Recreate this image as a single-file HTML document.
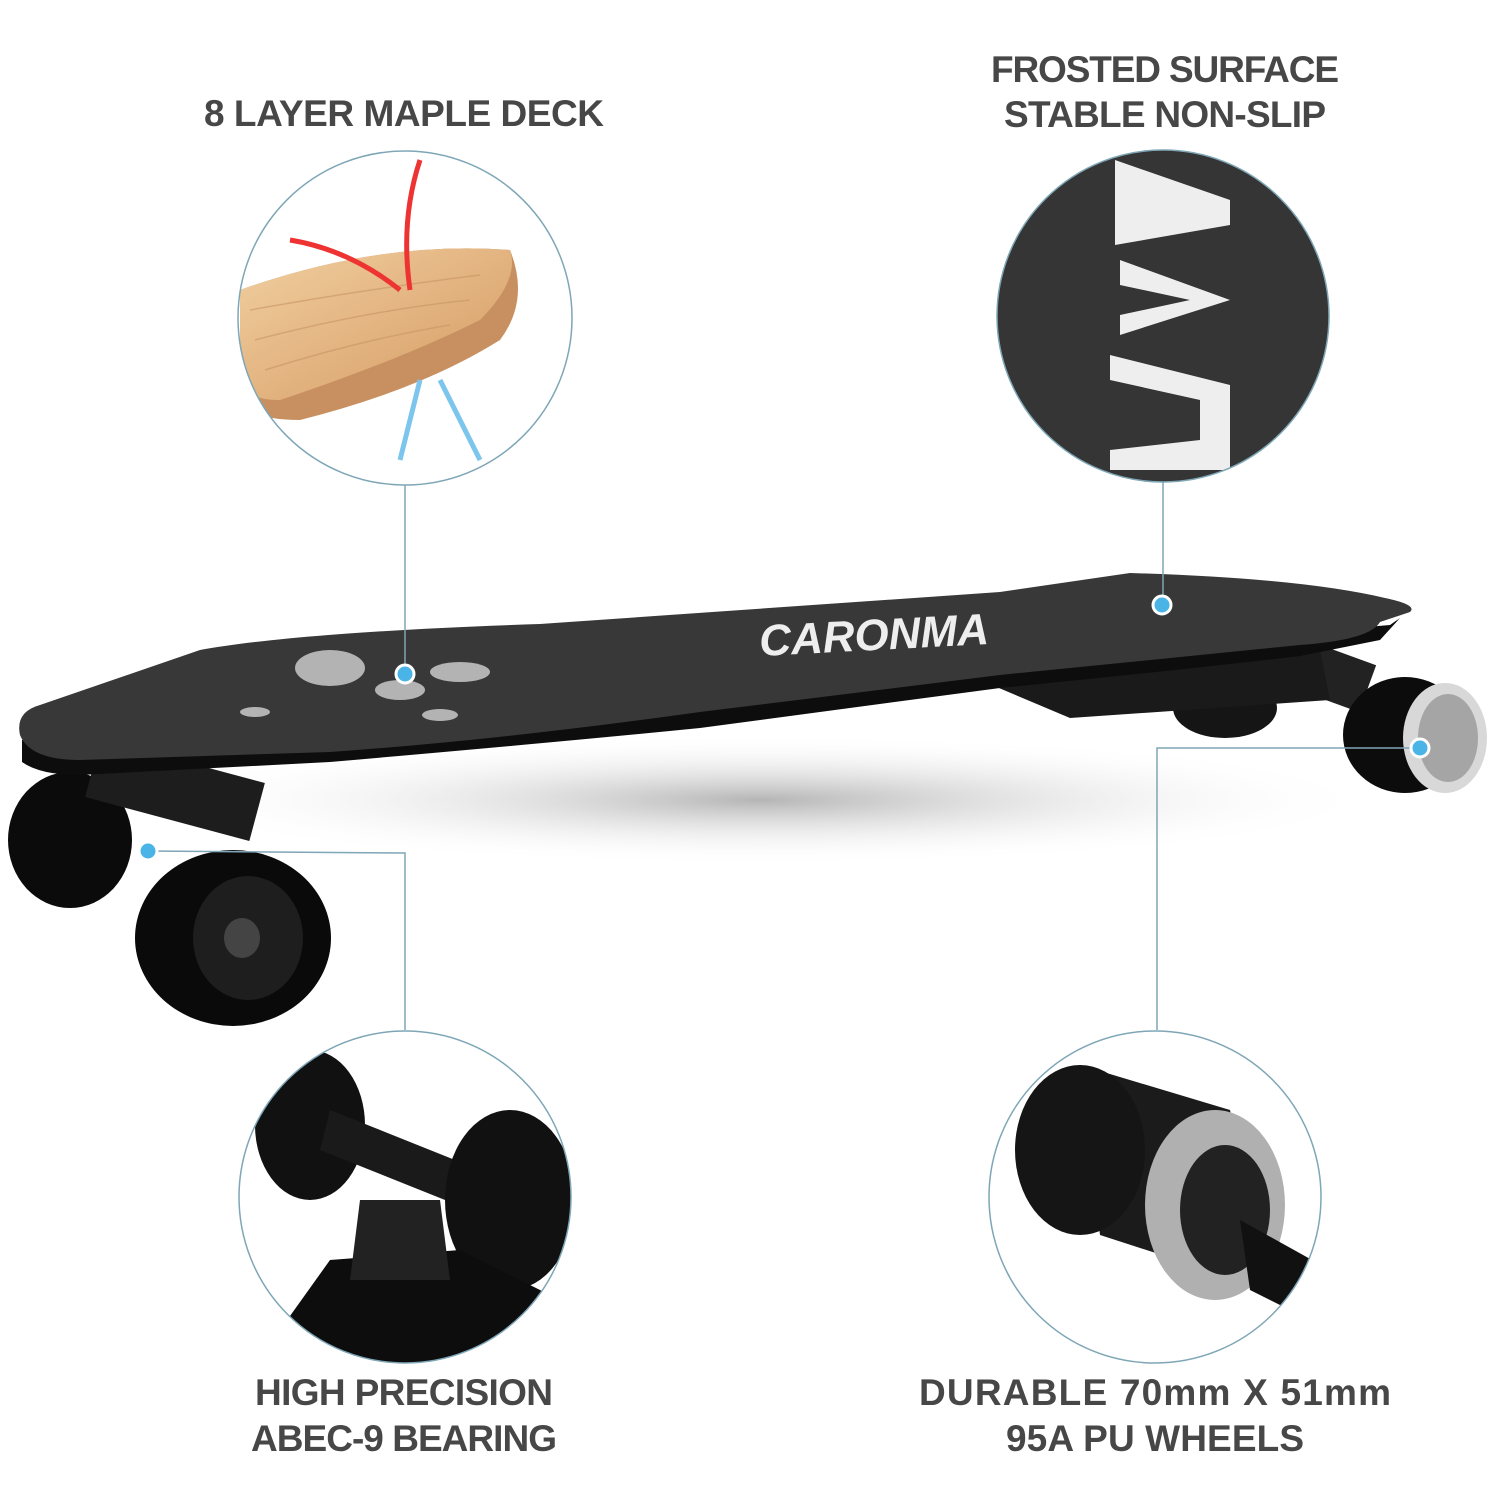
<!DOCTYPE html>
<html><head><meta charset="utf-8"><style>
html,body{margin:0;padding:0;background:#fff;}
svg{display:block;}
text{font-family:"Liberation Sans",sans-serif;font-weight:bold;fill:#474747;}
</style></head><body>
<svg width="1500" height="1500" viewBox="0 0 1500 1500" xmlns="http://www.w3.org/2000/svg">
<defs>
<radialGradient id="sh" cx="0.5" cy="0.5" r="0.5">
<stop offset="0" stop-color="#b5b5b5"/><stop offset="1" stop-color="#fff" stop-opacity="0"/>
</radialGradient>
<linearGradient id="wood" x1="0" y1="0" x2="1" y2="1">
<stop offset="0" stop-color="#f1cfa0"/><stop offset="1" stop-color="#d59a62"/>
</linearGradient>
<clipPath id="c1"><circle cx="405" cy="318" r="167"/></clipPath>
<clipPath id="c2"><circle cx="1163" cy="316" r="166"/></clipPath>
<clipPath id="c3"><circle cx="405" cy="1197" r="166"/></clipPath>
<clipPath id="c4"><circle cx="1155" cy="1197" r="166"/></clipPath>
</defs>

<text x="404" y="126" font-size="37" text-anchor="middle" textLength="400">8 LAYER MAPLE DECK</text>
<text x="1165" y="82" font-size="37" text-anchor="middle" textLength="348">FROSTED SURFACE</text>
<text x="1165" y="127" font-size="37" text-anchor="middle" textLength="322">STABLE NON-SLIP</text>
<text x="404" y="1405" font-size="37" text-anchor="middle" textLength="298">HIGH PRECISION</text>
<text x="404" y="1451" font-size="37" text-anchor="middle" textLength="306">ABEC-9 BEARING</text>
<text x="1155" y="1405" font-size="37" text-anchor="middle" textLength="472">DURABLE 70mm X 51mm</text>
<text x="1155" y="1451" font-size="37" text-anchor="middle" textLength="298">95A PU WHEELS</text>

<ellipse cx="760" cy="800" rx="620" ry="65" fill="url(#sh)"/>

<ellipse cx="1225" cy="708" rx="52" ry="30" fill="#151515"/>
<rect x="1290" y="650" width="80" height="50" fill="#222" transform="rotate(20 1330 675)"/>
<ellipse cx="1405" cy="735" rx="62" ry="58" fill="#0c0c0c"/>
<ellipse cx="1445" cy="738" rx="42" ry="55" fill="#d8d8d8"/>
<ellipse cx="1448" cy="738" rx="30" ry="44" fill="#a5a5a5"/>
<polygon points="980,680 1320,650 1330,700 1070,718" fill="#1a1a1a"/>

<ellipse cx="70" cy="840" rx="62" ry="68" fill="#0b0b0b"/>
<rect x="90" y="760" width="170" height="60" fill="#1d1d1d" transform="rotate(15 175 790)"/>
<ellipse cx="233" cy="938" rx="98" ry="88" fill="#0a0a0a"/>
<ellipse cx="248" cy="938" rx="55" ry="62" fill="#1e1e1e"/>
<ellipse cx="242" cy="938" rx="18" ry="20" fill="#444"/>

<path d="M22,740 L22,762 Q40,775 80,775 L330,762 Q560,742 700,728 L1000,688 Q1200,668 1300,656 L1380,640 L1400,618 L1390,625 Z" fill="#0d0d0d"/>
<path d="M20,735 Q15,712 40,705 L200,650 Q300,632 540,624 L1000,592 L1130,573 Q1300,578 1385,598 Q1418,605 1410,612 L1380,622 Q1370,640 1300,645 L1000,675 L700,712 Q500,740 330,752 L80,760 Q30,760 20,735 Z" fill="#383838"/>
<text x="760" y="656" font-size="44" style="fill:#eee;font-style:italic" transform="rotate(-3 760 656)">CARONMA</text>
<g fill="#ddd" opacity="0.75">
<ellipse cx="330" cy="668" rx="35" ry="18"/>
<ellipse cx="400" cy="690" rx="25" ry="10"/>
<ellipse cx="460" cy="672" rx="30" ry="10"/>
<ellipse cx="440" cy="715" rx="18" ry="6"/>
<ellipse cx="255" cy="712" rx="15" ry="5"/>
</g>

<g stroke="#7ea6b6" stroke-width="1.5" fill="none">
<line x1="405" y1="485" x2="405" y2="673"/>
<line x1="1163" y1="482" x2="1163" y2="604"/>
<polyline points="148,851 405,853 405,1030"/>
<polyline points="1420,748 1157,748 1157,1030"/>
</g>
<g fill="#4ab4e6" stroke="#fff" stroke-width="3">
<circle cx="405" cy="674" r="9"/>
<circle cx="1162" cy="605" r="9"/>
<circle cx="148" cy="851" r="9"/>
<circle cx="1420" cy="748" r="9"/>
</g>

<g clip-path="url(#c1)">
<rect x="230" y="150" width="350" height="340" fill="#fff"/>
<path d="M240,290 Q380,240 510,250 Q530,300 500,340 Q420,390 300,420 Q250,420 240,400 Z" fill="#c89060"/>
<path d="M240,290 Q380,240 510,250 Q520,280 480,320 Q400,360 280,400 Q245,400 240,380 Z" fill="url(#wood)"/>
<g stroke="#c99566" stroke-width="1.5" fill="none" opacity="0.6">
<path d="M250,310 Q360,290 480,275"/><path d="M255,340 Q370,310 470,300"/><path d="M265,370 Q360,340 450,325"/>
</g>
<path d="M290,240 Q350,250 400,290 M420,160 Q400,220 410,290" stroke="#e33" stroke-width="5" fill="none"/>
<path d="M440,380 Q460,420 480,460 M420,380 Q410,420 400,460" stroke="#7cc6ee" stroke-width="5" fill="none"/>
</g>
<circle cx="405" cy="318" r="167" fill="none" stroke="#7ea6b6" stroke-width="1.5"/>

<g clip-path="url(#c2)">
<rect x="990" y="140" width="350" height="350" fill="#353535"/>
<polygon points="1115,160 1230,200 1230,225 1115,245" fill="#eee"/>
<polygon points="1120,260 1230,300 1120,335 1120,315 1190,300 1120,285" fill="#eee"/>
<polygon points="1110,355 1230,385 1230,470 1110,470 1110,450 1200,440 1200,400 1110,380" fill="#eee"/>
</g>
<circle cx="1163" cy="316" r="166" fill="none" stroke="#7ea6b6" stroke-width="1.5"/>

<g clip-path="url(#c3)">
<rect x="230" y="1025" width="350" height="345" fill="#fff"/>
<ellipse cx="310" cy="1125" rx="55" ry="75" fill="#111"/>
<polygon points="330,1110 480,1170 470,1210 320,1150" fill="#1a1a1a"/>
<ellipse cx="510" cy="1200" rx="65" ry="90" fill="#111"/>
<polygon points="280,1330 330,1260 460,1250 560,1300 560,1370 280,1370" fill="#0d0d0d"/>
<polygon points="360,1200 440,1200 450,1280 350,1280" fill="#222"/>
</g>
<circle cx="405" cy="1197" r="166" fill="none" stroke="#7ea6b6" stroke-width="1.5"/>

<g clip-path="url(#c4)">
<rect x="985" y="1025" width="345" height="345" fill="#fff"/>
<polygon points="1080,1065 1230,1110 1270,1290 1100,1235" fill="#1b1b1b"/>
<ellipse cx="1080" cy="1150" rx="65" ry="85" fill="#151515"/>
<ellipse cx="1215" cy="1205" rx="70" ry="95" fill="#b0b0b0"/>
<ellipse cx="1225" cy="1210" rx="45" ry="65" fill="#222"/>
<polygon points="1240,1220 1330,1270 1330,1330 1250,1290" fill="#111"/>
</g>
<circle cx="1155" cy="1197" r="166" fill="none" stroke="#7ea6b6" stroke-width="1.5"/>
</svg>
</body></html>
